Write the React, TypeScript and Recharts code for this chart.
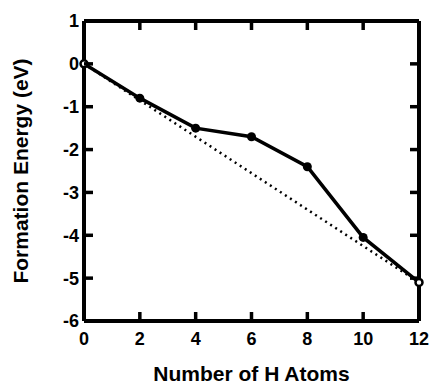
import React from 'react'
import { LineChart, Line, XAxis, YAxis } from 'recharts'

// number of H atoms vs formation energy (eV)
const hAtoms = [0, 2, 4, 6, 8, 10, 12]
const formationEnergy = [0, -0.8, -1.5, -1.7, -2.4, -4.05, -5.1]

// straight dotted reference between the end points
const refAtoms = [0, 12]
const refEnergy = [0, -5.1]

const xTicks = [0, 2, 4, 6, 8, 10, 12]
const yTicks = [-6, -5, -4, -3, -2, -1, 0, 1]

const curve = hAtoms.map((n, i) => ({ n, e: formationEnergy[i] }))
const guide = refAtoms.map((n, i) => ({ n, e: refEnergy[i] }))

const FONT = "'Liberation Sans', Arial, Helvetica, sans-serif"
const axisLine = { stroke: '#000', strokeWidth: 4 }
const TICK = 9
const TICK_W = 3.5

function BottomTick(props: any) {
  const { x, y, payload } = props
  return (
    <g>
      <line x1={x} y1={y} x2={x} y2={y - TICK} stroke="#000" strokeWidth={TICK_W} />
      <text x={x} y={y + 24} textAnchor="middle" fill="#000" fontSize={18} fontWeight="bold" fontFamily={FONT}>
        {payload.value}
      </text>
    </g>
  )
}

function LeftTick(props: any) {
  const { x, y, payload } = props
  return (
    <g>
      <line x1={x} y1={y} x2={x + TICK} y2={y} stroke="#000" strokeWidth={TICK_W} />
      <text x={x - 5} y={y} dy="0.36em" textAnchor="end" fill="#000" fontSize={18} fontWeight="bold" fontFamily={FONT}>
        {payload.value}
      </text>
    </g>
  )
}

function TopTick(props: any) {
  const { x, y } = props
  return <line x1={x} y1={y} x2={x} y2={y + TICK} stroke="#000" strokeWidth={TICK_W} />
}

function RightTick(props: any) {
  const { x, y } = props
  return <line x1={x} y1={y} x2={x - TICK} y2={y} stroke="#000" strokeWidth={TICK_W} />
}

function XTitle(props: any) {
  const vb = props.viewBox || { x: 84, y: 321, width: 335, height: 64 }
  return (
    <text
      x={vb.x + vb.width / 2}
      y={vb.y + 60}
      textAnchor="middle"
      fill="#000"
      fontSize={21}
      fontWeight="bold"
      fontFamily={FONT}
    >
      Number of H Atoms
    </text>
  )
}

function YTitle(props: any) {
  const vb = props.viewBox || { x: 0, y: 21, width: 84, height: 300 }
  const x = vb.x + 28
  const y = vb.y + vb.height / 2
  return (
    <text
      x={x}
      y={y}
      transform={`rotate(-90, ${x}, ${y})`}
      textAnchor="middle"
      fill="#000"
      fontSize={21}
      fontWeight="bold"
      fontFamily={FONT}
    >
      Formation Energy (eV)
    </text>
  )
}

function CurveDot(props: any) {
  const { cx, cy, index } = props
  if (index === 0 || index === hAtoms.length - 1) return <g key={`c${index}`} />
  return <circle key={`c${index}`} cx={cx} cy={cy} r={4.5} fill="#000" />
}

function EndDot(props: any) {
  const { cx, cy, index } = props
  return <circle key={`g${index}`} cx={cx} cy={cy} r={3.5} fill="#fff" stroke="#000" strokeWidth={2.5} />
}

export default function App() {
  return (
    <div style={{ position: 'absolute', left: 0, top: 0, width: 429, height: 385, background: '#fff' }}>
      <LineChart width={429} height={385} margin={{ top: 20, right: 9, bottom: 0, left: 0 }}>
        <XAxis
          dataKey="n"
          type="number"
          domain={[0, 12]}
          ticks={xTicks}
          height={64}
          stroke="#000"
          axisLine={axisLine}
          tickLine={false}
          tickSize={0}
          tickMargin={0}
          tick={(p: any) => <BottomTick {...p} />}
          label={<XTitle />}
        />
        <YAxis
          type="number"
          domain={[-6, 1]}
          ticks={yTicks}
          width={84}
          stroke="#000"
          axisLine={axisLine}
          tickLine={false}
          tickSize={0}
          tickMargin={0}
          tick={(p: any) => <LeftTick {...p} />}
          label={<YTitle />}
        />
        <XAxis
          xAxisId="top"
          orientation="top"
          dataKey="n"
          type="number"
          domain={[0, 12]}
          ticks={xTicks}
          height={1}
          stroke="#000"
          axisLine={axisLine}
          tickLine={false}
          tickSize={0}
          tickMargin={0}
          tick={(p: any) => <TopTick {...p} />}
        />
        <YAxis
          yAxisId="right"
          orientation="right"
          type="number"
          domain={[-6, 1]}
          ticks={yTicks}
          width={1}
          stroke="#000"
          axisLine={axisLine}
          tickLine={false}
          tickSize={0}
          tickMargin={0}
          tick={(p: any) => <RightTick {...p} />}
        />
        <Line
          data={curve}
          dataKey="e"
          type="linear"
          stroke="#000"
          strokeWidth={3.5}
          dot={CurveDot}
          activeDot={false}
          isAnimationActive={false}
        />
        <Line
          data={guide}
          xAxisId="top"
          yAxisId="right"
          dataKey="e"
          type="linear"
          stroke="#000"
          strokeWidth={2.5}
          strokeDasharray="2 4"
          dot={EndDot}
          activeDot={false}
          isAnimationActive={false}
        />
      </LineChart>
    </div>
  )
}
